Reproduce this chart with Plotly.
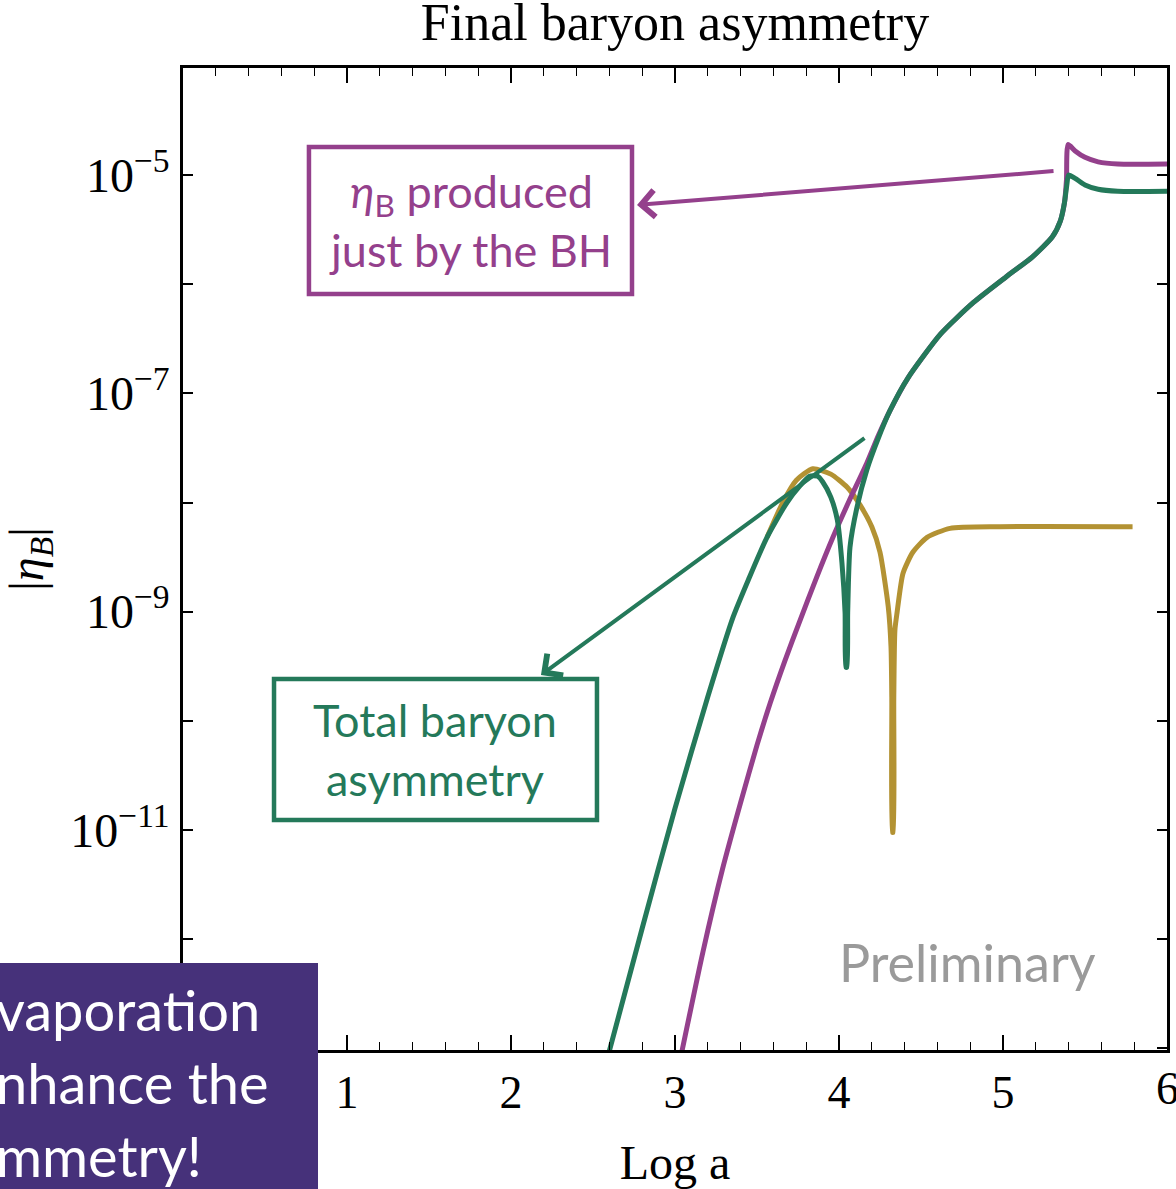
import plotly.graph_objects as go

# ---- data (x = log a, y = |eta_B|) ----
total_x = [2.60, 2.80, 3.00, 3.20, 3.354, 3.45, 3.561, 3.683, 3.76, 3.82, 3.87, 3.90, 3.95, 3.99,
           4.018, 4.037, 4.042, 4.048, 4.053, 4.067, 4.11, 4.17, 4.24, 4.31, 4.42, 4.62, 4.82,
           5.02, 5.18, 5.30, 5.35, 5.375, 5.39, 5.40, 5.44, 5.50, 5.58, 5.70, 6.0]
total_y = [9.5e-14, 1.26e-12, 1.58e-11, 1.66e-10, 8.9e-10, 2.0e-9, 4.8e-9, 1.0e-8, 1.41e-8,
           1.74e-8, 1.74e-8, 1.55e-8, 1.12e-8, 6.9e-9, 2.8e-9,
           9.8e-10, 3.1e-10, 3.1e-10, 9.8e-10, 3.9e-9, 9.1e-9, 2.0e-8, 3.9e-8, 6.9e-8, 1.38e-7,
           3.5e-7, 6.8e-7, 1.17e-6, 1.78e-6, 2.7e-6, 3.8e-6, 5.6e-6, 8.3e-6, 1.0e-5, 9.3e-6,
           8.1e-6, 7.4e-6, 7.1e-6, 7.1e-6]

bh_x = [3.043, 3.17, 3.29, 3.40, 3.50, 3.58, 3.67, 3.762, 3.86, 3.963, 4.06, 4.17, 4.24, 4.31,
        4.42, 4.62, 4.82, 5.02, 5.18, 5.30, 5.35, 5.375, 5.387, 5.397, 5.44, 5.50, 5.58, 5.70,
        6.0]
bh_y = [9.5e-14, 7.6e-13, 4.4e-12, 1.78e-11, 6.0e-11, 1.45e-10, 3.55e-10, 8.3e-10, 2.0e-9,
        4.8e-9, 1.02e-8, 2.3e-8, 4.1e-8, 6.9e-8, 1.38e-7, 3.5e-7, 6.8e-7, 1.17e-6, 1.78e-6,
        2.7e-6, 3.8e-6, 5.6e-6, 9.0e-6, 1.9e-5, 1.66e-5, 1.45e-5, 1.32e-5, 1.26e-5, 1.26e-5]

other_x = [3.561, 3.66, 3.74, 3.84, 3.95, 4.05, 4.128, 4.20, 4.25, 4.30, 4.317, 4.322, 4.326,
           4.330, 4.334, 4.341, 4.354, 4.39, 4.45, 4.537, 4.677, 4.98, 5.79]
other_y = [4.8e-9, 1.02e-8, 1.6e-8, 2.04e-8, 1.82e-8, 1.38e-8, 9.5e-9, 6.0e-9, 3.5e-9, 1.12e-9,
           4.8e-10, 1.6e-10, 9.5e-12, 9.5e-12, 1.6e-10, 6.8e-10, 9.8e-10, 2.24e-9, 3.5e-9,
           4.8e-9, 5.8e-9, 6.0e-9, 6.0e-9]

x_ticks = [0, 1, 2, 3, 4, 5, 6]
y_tick_vals = [1e-13, 1e-12, 1e-11, 1e-10, 1e-9, 1e-8, 1e-7, 1e-6, 1e-5, 1e-4]
y_tick_text = ["", "", "10<sup>−11</sup>", "", "10<sup>−9</sup>", "", "10<sup>−7</sup>", "",
               "10<sup>−5</sup>", ""]

GREEN = "#24795a"
MAGENTA = "#94408c"
GOLD = "#b39233"
PURPLE = "#46317a"
SERIF = "Liberation Serif"
SANS = "Lato"

fig = go.Figure()
fig.add_trace(go.Scatter(x=other_x, y=other_y, mode="lines",
                         line=dict(color=GOLD, width=5, shape="spline", smoothing=0.6),
                         showlegend=False))
fig.add_trace(go.Scatter(x=bh_x, y=bh_y, mode="lines",
                         line=dict(color=MAGENTA, width=5, shape="spline", smoothing=0.6),
                         showlegend=False))
fig.add_trace(go.Scatter(x=total_x, y=total_y, mode="lines",
                         line=dict(color=GREEN, width=5, shape="spline", smoothing=0.6),
                         showlegend=False))

fig.update_layout(
    width=1176, height=1189,
    margin=dict(l=183, r=9, t=68, b=139),
    paper_bgcolor="white", plot_bgcolor="white",
    title=dict(text="Final baryon asymmetry", x=0.5, xref="paper", xanchor="center",
               y=1 - 22 / 1189, yref="container", yanchor="middle", automargin=False,
               font=dict(family=SERIF, size=52, color="black")),
    xaxis=dict(range=[0, 6], tickvals=x_ticks, ticks="inside", ticklen=15, tickwidth=1.5,
               tickcolor="black", showline=True, linecolor="black", linewidth=2.5,
               mirror="allticks", showgrid=False, zeroline=False, automargin=False,
               minor=dict(dtick=0.2, ticks="inside", ticklen=8, tickwidth=1.2, tickcolor="black",
                          showgrid=False),
               tickfont=dict(family=SERIF, size=46, color="black"), ticklabelstandoff=0,
               title=dict(text="Log a", font=dict(family=SERIF, size=48, color="black"),
                          standoff=30)),
    yaxis=dict(type="log", range=[-13.015, -4.02], tickvals=y_tick_vals, ticktext=y_tick_text,
               ticks="inside", ticklen=10, tickwidth=1.5, tickcolor="black",
               showline=True, linecolor="black", linewidth=2.5, mirror="allticks",
               showgrid=False, zeroline=False, automargin=False,
               tickfont=dict(family=SERIF, size=48, color="black"), ticklabelstandoff=1,
               title=dict(text="|<i>η</i><sub><i>B</i></sub>|",
                          font=dict(family=SERIF, size=48, color="black"), standoff=30)),
)

# tick label at the right end, partially cut by the page edge as in the reference
fig.add_annotation(xref="paper", yref="paper", x=1.0, y=-0.0387, xanchor="center",
                   yanchor="middle", showarrow=False, text="6",
                   font=dict(family=SERIF, size=46, color="black"))

# hand-drawn style boxes
fig.add_shape(type="rect", xref="paper", yref="paper", x0=0.128, x1=0.4563, y0=0.7699, y1=0.9196,
              line=dict(color=MAGENTA, width=4.5), layer="above")
fig.add_shape(type="rect", xref="paper", yref="paper", x0=0.0925, x1=0.4207, y0=0.2342, y1=0.3778,
              line=dict(color=GREEN, width=4.5), layer="above")

fig.add_annotation(xref="paper", yref="paper", x=0.2922, y=0.845, showarrow=False,
                   xanchor="center", yanchor="middle",
                   text="<i>η</i><sub>B</sub> produced<br>just by the BH",
                   font=dict(family=SANS, size=45, color=MAGENTA), align="center")
fig.add_annotation(xref="paper", yref="paper", x=0.2566, y=0.306, showarrow=False,
                   xanchor="center", yanchor="middle",
                   text="Total baryon<br>asymmetry",
                   font=dict(family=SANS, size=45, color=GREEN), align="center")

# arrows
fig.add_annotation(xref="paper", yref="paper", x=0.4614, y=0.8605, ax=418, ay=-34,
                   axref="pixel", ayref="pixel", showarrow=True, text="",
                   arrowhead=4, arrowsize=1.3, arrowwidth=4, arrowcolor=MAGENTA)
fig.add_annotation(xref="paper", yref="paper", x=0.3638, y=0.3819, ax=325, ay=-238,
                   axref="pixel", ayref="pixel", showarrow=True, text="",
                   arrowhead=4, arrowsize=1.3, arrowwidth=4, arrowcolor=GREEN)

fig.add_annotation(xref="paper", yref="paper", x=0.797, y=0.0896, showarrow=False,
                   xanchor="center", yanchor="middle",
                   text="Preliminary", font=dict(family=SANS, size=52, color="#9a9a9a"))

# purple overlay box (bottom-left)
fig.add_shape(type="rect", xref="paper", yref="paper", x0=-0.19, x1=0.1372, y0=-0.145, y1=0.0886,
              fillcolor=PURPLE, line=dict(width=0), layer="above")
fig.add_annotation(xref="paper", yref="paper", x=-0.192, y=-0.0326, xanchor="left",
                   yanchor="middle", showarrow=False, align="left",
                   text="vaporation<br>nhance the<br>mmetry!",
                   font=dict(family=SANS, size=56, color="white"))

fig.write_html("out.html")
